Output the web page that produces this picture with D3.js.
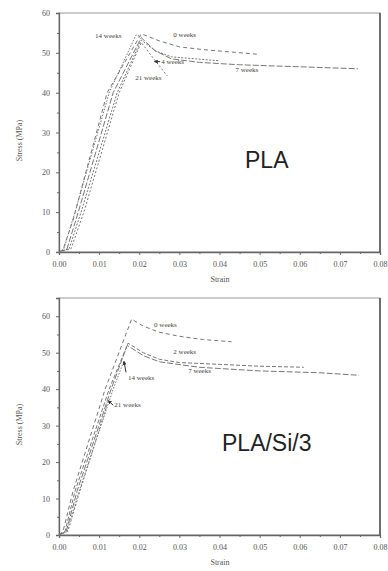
<!DOCTYPE html>
<html>
<head>
<meta charset="utf-8">
<script src="https://cdn.jsdelivr.net/npm/d3@7"></script>
<style>
  body { margin: 0; background: #fff; }
  svg { display: block; }
  .tick text { font-family: "Liberation Serif", serif; font-size: 8px; fill: #555; }
  .tick line, .domain { stroke: #666; }
</style>
</head>
<body>
<svg id="chart" width="388" height="571"></svg>
<script>
// strain ticks shared by both panels
const strainTicks = [0, 0.01, 0.02, 0.03, 0.04, 0.05, 0.06, 0.07, 0.08];

// PLA curves, [strain, stress MPa]
const pla0w  = [[0,0],[0.001,0.6],[0.0035,8],[0.012,40],[0.0205,54.8],[0.025,53],[0.030,51.5],[0.036,50.8],[0.043,50.2],[0.050,49.6]];
const pla4w  = [[0,0],[0.0025,0.8],[0.0055,10],[0.0145,40],[0.0205,53.2],[0.024,50.5],[0.028,49],[0.034,48.5],[0.040,48]];
const pla7w  = [[0,0],[0.002,0.8],[0.0048,10],[0.0135,40],[0.0205,53.8],[0.024,50.5],[0.028,48.5],[0.035,47.6],[0.045,47],[0.060,46.5],[0.0745,46]];
const pla14w = [[0,0],[0.0012,0.8],[0.004,10],[0.0125,40],[0.0192,54.5],[0.0205,54]];
const pla21w = [[0,0],[0.003,0.8],[0.0062,10],[0.015,40],[0.0205,52.6],[0.024,48],[0.027,44.2]];

// PLA/Si/3 curves
const si0w  = [[0,0],[0.001,1],[0.0035,12],[0.0115,40],[0.0181,59.2],[0.021,57.3],[0.025,55.6],[0.030,54.5],[0.036,53.6],[0.043,53]];
const si2w  = [[0,0],[0.0015,1],[0.004,12],[0.0125,40],[0.0172,52.6],[0.021,50],[0.025,48.2],[0.030,47.3],[0.040,46.8],[0.050,46.3],[0.061,46]];
const si7w  = [[0,0],[0.0018,1],[0.0045,12],[0.013,40],[0.0170,52],[0.021,49.2],[0.025,47.5],[0.035,46],[0.050,45],[0.065,44.5],[0.0748,43.8]];
const si14w = [[0,0],[0.002,1],[0.005,12],[0.0135,40],[0.0162,47.8]];
const si21w = [[0,0],[0.0022,1],[0.0052,12],[0.0122,36.5]];

const weekNames = ["0 weeks", "2 weeks", "4 weeks", "7 weeks", "14 weeks", "21 weeks"];

const svg = d3.select("#chart");

function drawPanel(p) {
  const x = d3.scaleLinear().domain([0, 0.08]).range([59, 380]);
  const y = d3.scaleLinear().domain([0, p.yMax]).range([p.bottom, p.top]);
  const g = svg.append("g");

  // frame
  g.append("rect")
    .attr("x", 59).attr("y", p.top)
    .attr("width", 321).attr("height", p.bottom - p.top)
    .attr("fill", "none").attr("stroke", "#999").attr("stroke-width", 1);
  g.append("line")
    .attr("x1", 380).attr("x2", 380).attr("y1", p.top).attr("y2", p.bottom)
    .attr("stroke", "#555").attr("stroke-width", 1.6);

  // axes
  g.append("g").attr("transform", `translate(0,${p.bottom})`)
    .call(d3.axisBottom(x).tickValues(strainTicks).tickFormat(d3.format(".2f")).tickSize(3).tickPadding(6))
    .call(a => a.select(".domain").attr("stroke-width", 1.3));
  g.append("g").attr("transform", `translate(0,${p.bottom})`)
    .call(d3.axisBottom(x).tickValues(d3.range(0.005, 0.08, 0.01)).tickFormat("").tickSize(2))
    .call(a => a.select(".domain").remove());
  g.append("g").attr("transform", "translate(59,0)")
    .call(d3.axisLeft(y).tickValues(p.yTicks).tickSize(3).tickPadding(6))
    .call(a => a.select(".domain").attr("stroke-width", 1.3));
  g.append("g").attr("transform", "translate(59,0)")
    .call(d3.axisLeft(y).tickValues(d3.range(5, p.yMax, 10)).tickFormat("").tickSize(2))
    .call(a => a.select(".domain").remove());

  g.append("text")
    .attr("x", 220).attr("y", p.bottom + 30)
    .attr("text-anchor", "middle")
    .style("font", "8px 'Liberation Serif', serif").attr("fill", "#555")
    .text("Strain");
  g.append("text")
    .attr("transform", `translate(22,${(p.top + p.bottom) / 2 + 8}) rotate(-90)`)
    .attr("text-anchor", "middle")
    .style("font", "8px 'Liberation Serif', serif").attr("fill", "#555")
    .text("Stress (MPa)");

  // curves
  const line = d3.line().x(d => x(d[0])).y(d => y(d[1]));
  p.curves.forEach(c => {
    g.append("path").datum(c.data)
      .attr("d", line)
      .attr("fill", "none")
      .attr("stroke", "#777")
      .attr("stroke-width", 1)
      .attr("stroke-dasharray", c.dash);
  });

  // curve labels
  p.curves.forEach(c => {
    g.append("text")
      .attr("x", x(c.label[0])).attr("y", y(c.label[1]))
      .style("font", "7px 'Liberation Serif', serif").attr("fill", "#444")
      .text(c.name);
    if (c.arrow) {
      g.append("line")
        .attr("x1", x(c.arrow[0])).attr("y1", y(c.arrow[1]))
        .attr("x2", x(c.arrow[2])).attr("y2", y(c.arrow[3]))
        .attr("stroke", "#333").attr("stroke-width", 1)
        .attr("marker-end", "url(#head)");
    }
  });

  g.append("text")
    .attr("x", p.titleX).attr("y", p.titleY)
    .style("font", "23px 'Liberation Sans', Arial, sans-serif").attr("fill", "#222")
    .text(p.title);
}

svg.append("defs").append("marker")
  .attr("id", "head").attr("viewBox", "0 0 6 6")
  .attr("refX", 5).attr("refY", 3)
  .attr("markerWidth", 4).attr("markerHeight", 4)
  .attr("orient", "auto")
  .append("path").attr("d", "M0,0L6,3L0,6Z").attr("fill", "#333");

drawPanel({
  top: 13, bottom: 252, yMax: 60, yTicks: [0, 10, 20, 30, 40, 50, 60],
  title: "PLA", titleX: 245, titleY: 168,
  curves: [
    { name: weekNames[0], data: pla0w,  dash: "4,3", label: [0.0285, 54] },
    { name: weekNames[2], data: pla4w,  dash: "2,1.5", label: [0.0255, 47.2], arrow: [0.0252, 47.8, 0.0238, 47.8] },
    { name: weekNames[3], data: pla7w,  dash: "6,2", label: [0.0440, 45.2] },
    { name: weekNames[4], data: pla14w, dash: "1.5,1.5", label: [0.0090, 53.6] },
    { name: weekNames[5], data: pla21w, dash: "2,2", label: [0.0190, 43.3] }
  ]
});

drawPanel({
  top: 298, bottom: 535, yMax: 65, yTicks: [0, 10, 20, 30, 40, 50, 60],
  title: "PLA/Si/3", titleX: 222, titleY: 451,
  curves: [
    { name: weekNames[0], data: si0w,  dash: "4,3", label: [0.0237, 57] },
    { name: weekNames[1], data: si2w,  dash: "4,2", label: [0.0285, 49.6] },
    { name: weekNames[3], data: si7w,  dash: "6,2", label: [0.0322, 44.5] },
    { name: weekNames[4], data: si14w, dash: "1.5,1.5", label: [0.0172, 42.6], arrow: [0.0167, 44.6, 0.0162, 47.6] },
    { name: weekNames[5], data: si21w, dash: "2,2", label: [0.0138, 35], arrow: [0.0135, 35.6, 0.0123, 36.8] }
  ]
});
</script>
</body>
</html>
